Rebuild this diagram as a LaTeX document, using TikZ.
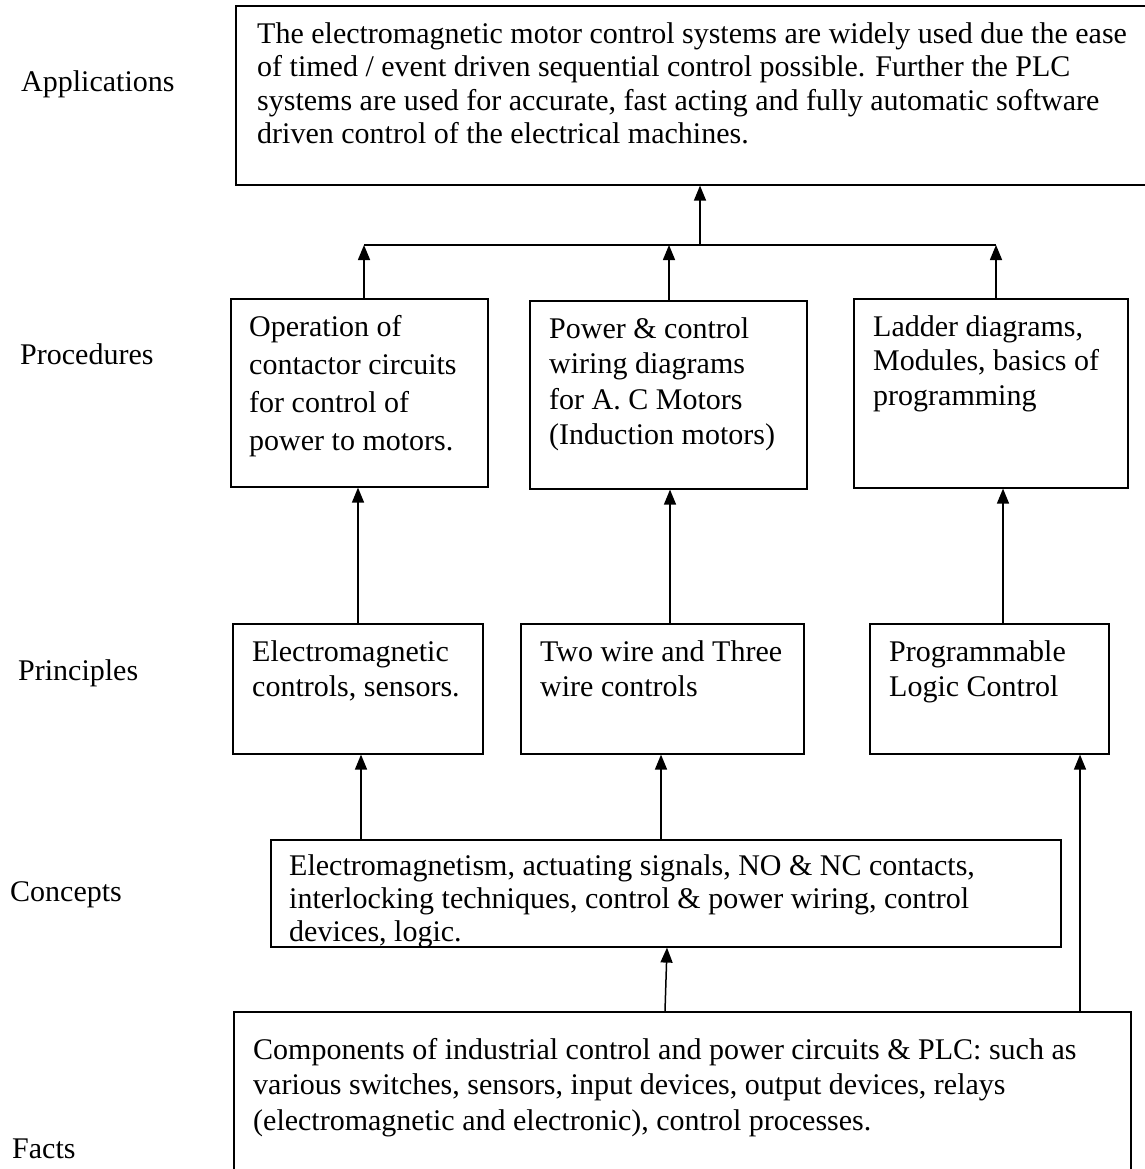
\documentclass[tikz,border=0pt]{standalone}
\usepackage{fontspec}
\setmainfont{Liberation Serif}
\usepackage{tikz}
\usetikzlibrary{arrows.meta, positioning, calc}

\begin{document}
\begin{tikzpicture}[x=1pt,y=-1pt,
                    box node/.style={rectangle,draw,line width=1.6pt,anchor=north west,inner sep=0pt},
                    text node/.style={anchor=north west,inner sep=0pt,align=left,font=\fontsize{30}{#1}\selectfont},
                    text node/.default=35,
                    level node/.style={anchor=west,inner sep=0pt,font=\fontsize{30}{34}\selectfont},
                    arrow line/.style={line width=1.5pt,-{Triangle[width=12pt,length=15pt]}}]
 \useasboundingbox (0,0) rectangle (1144,1169);

%Level labels on the left
 \foreach \name/\x/\y in {Applications/21/84,Procedures/20/354,Principles/18/673,Concepts/10/895,Facts/12/1149}
    \node[level node] (Label\name) at (\x,\y) {\name};

%Boxes
 \node[box node,minimum width=930pt,minimum height=179pt] (app) at (235,5) {};
 \node[box node,minimum width=257pt,minimum height=188pt] (proc1) at (230,298) {};
 \node[box node,minimum width=277pt,minimum height=188pt] (proc2) at (529,300) {};
 \node[box node,minimum width=274pt,minimum height=189pt] (proc3) at (853,298) {};
 \node[box node,minimum width=250pt,minimum height=130pt] (princ1) at (232,623) {};
 \node[box node,minimum width=283pt,minimum height=130pt] (princ2) at (520,623) {};
 \node[box node,minimum width=239pt,minimum height=130pt] (princ3) at (869,623) {};
 \node[box node,minimum width=790pt,minimum height=107pt] (conc) at (270,839) {};
 \node[box node,minimum width=897pt,minimum height=180pt] (facts) at (233,1011) {};

%Box texts
 \node[text node=33.5] (appText) at ([xshift=22pt,yshift=-17pt]app.north west)
   {The electromagnetic motor control systems are widely used due the ease\\
    of timed / event driven sequential control possible. Further the PLC\\
    systems are used for accurate, fast acting and fully automatic software\\
    driven control of the electrical machines.};
 \node[text node=38] (proc1Text) at ([xshift=19pt,yshift=-17pt]proc1.north west)
   {Operation of\\contactor circuits\\for control of\\power to motors.};
 \node[text node=35.5] (proc2Text) at ([xshift=20pt,yshift=-17pt]proc2.north west)
   {Power \& control\\wiring diagrams\\for A. C Motors\\(Induction motors)};
 \node[text node=34.5] (proc3Text) at ([xshift=20pt,yshift=-17pt]proc3.north west)
   {Ladder diagrams,\\Modules, basics of\\programming};
 \node[text node] (princ1Text) at ([xshift=20pt,yshift=-17pt]princ1.north west)
   {Electromagnetic\\controls, sensors.};
 \node[text node] (princ2Text) at ([xshift=20pt,yshift=-17pt]princ2.north west)
   {Two wire and Three\\wire controls};
 \node[text node] (princ3Text) at ([xshift=20pt,yshift=-17pt]princ3.north west)
   {Programmable\\Logic Control};
 \node[text node=33] (concText) at ([xshift=19pt,yshift=-15pt]conc.north west)
   {Electromagnetism, actuating signals, NO \& NC contacts,\\
    interlocking techniques, control \& power wiring, control\\
    devices, logic.};
 \node[text node=35.5] (factsText) at ([xshift=20pt,yshift=-27pt]facts.north west)
   {Components of industrial control and power circuits \& PLC: such as\\
    various switches, sensors, input devices, output devices, relays\\
    (electromagnetic and electronic), control processes.};

%Arrows from facts and concepts
 \draw[arrow line] (665,0 |- facts.north) -- (667,0 |- conc.south);
 \draw[arrow line] (1080,0 |- facts.north) -- (1080,0 |- princ3.south);
 \draw[arrow line] (361,0 |- conc.north) -- (361,0 |- princ1.south);
 \draw[arrow line] (661,0 |- conc.north) -- (661,0 |- princ2.south);

%Arrows from principles to procedures
 \draw[arrow line] (358,0 |- princ1.north) -- (358,0 |- proc1.south);
 \draw[arrow line] (670,0 |- princ2.north) -- (670,0 |- proc2.south);
 \draw[arrow line] (1003,0 |- princ3.north) -- (1003,0 |- proc3.south);

%Collecting line up to applications
 \coordinate (busL) at (364,245);
 \coordinate (busR) at (996,245);
 \draw[line width=1.8pt] (busL) -- (busR);
 \draw[arrow line] (364,0 |- proc1.north) -- (busL);
 \draw[arrow line] (669,0 |- proc2.north) -- (669,0 |- busL);
 \draw[arrow line] (996,0 |- proc3.north) -- (busR);
 \draw[arrow line] (700,0 |- busL) -- (700,0 |- app.south);

\end{tikzpicture}
\end{document}
